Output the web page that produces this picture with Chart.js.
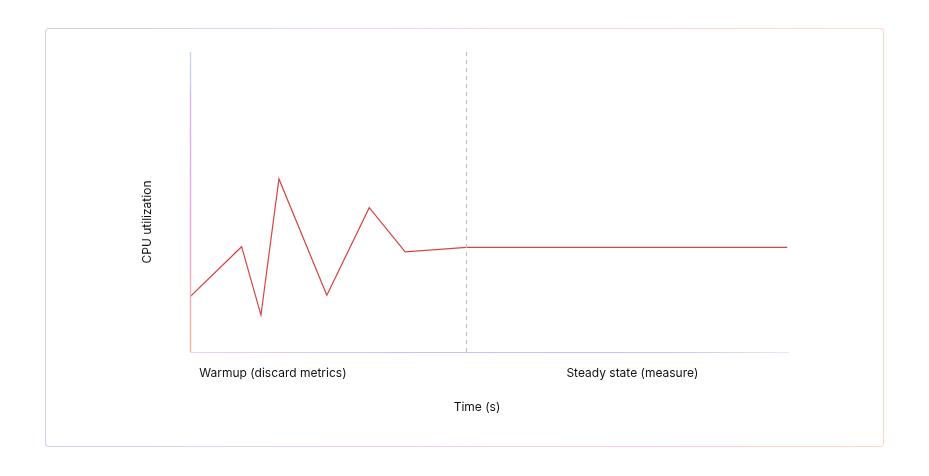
<!DOCTYPE html>
<html>
<head>
<meta charset="utf-8">
<script src="https://cdn.jsdelivr.net/npm/chart.js@4.4.1/dist/chart.umd.min.js"></script>
<style>
  html, body { margin: 0; padding: 0; background: #fff; }
  #card {
    position: absolute; left: 45px; top: 28px; width: 837px; height: 417px;
    border: 1px solid transparent; border-radius: 4px;
    background: linear-gradient(#fff, #fff) padding-box,
                linear-gradient(90deg, #cdd0f7 0%, #f3d2f2 45%, #ffd3d6 70%, #ffd8cc 100%) border-box;
  }
  #wrap { position: absolute; left: 0; top: 0; width: 929px; height: 476px; }
</style>
</head>
<body>
<div id="card"></div>
<div id="wrap"><canvas id="chart" width="929" height="476"></canvas></div>
<script>
// time (s) and cpu utilization (%)
const times = [0, 11.2, 15.4, 19.3, 29.7, 38.9, 46.7, 60, 129.6];
const cpu = [18.4, 35.1, 12.3, 57.7, 18.9, 48.1, 33.4, 34.9, 34.9];
const steadyStart = 60;
const phaseLabels = ["Warmup (discard metrics)", "Steady state (measure)"];
const phaseTicks = [18, 96];
const xTitle = "Time (s)";
const yTitle = "CPU utilization";

const decorPlugin = {
    id: "decor",
    afterDatasetsDraw(chart) {
        const ctx = chart.ctx;
        const a = chart.chartArea;
        const xs = chart.scales.x;
        ctx.save();

        // dashed phase divider
        const dx = Math.round(xs.getPixelForValue(steadyStart)) + 0.5;
        ctx.strokeStyle = "#bdbdbd";
        ctx.lineWidth = 1;
        ctx.setLineDash([4, 4]);
        ctx.beginPath();
        ctx.moveTo(dx, a.top);
        ctx.lineTo(dx, a.bottom);
        ctx.stroke();
        ctx.setLineDash([]);

        // y axis line
        let g = ctx.createLinearGradient(0, a.top, 0, a.bottom);
        g.addColorStop(0, "#c6d2f6");
        g.addColorStop(0.1, "#c8cef6");
        g.addColorStop(0.14, "#cfb2f7");
        g.addColorStop(0.35, "#dca8f6");
        g.addColorStop(0.55, "#ffa0dc");
        g.addColorStop(0.78, "#ffa8b4");
        g.addColorStop(1, "#ffb08a");
        ctx.strokeStyle = g;
        ctx.lineWidth = 1.3;
        ctx.beginPath();
        ctx.moveTo(a.left + 0.5, a.top);
        ctx.lineTo(a.left + 0.5, a.bottom);
        ctx.stroke();

        // x axis line
        g = ctx.createLinearGradient(a.left, 0, a.right, 0);
        g.addColorStop(0, "#f0d0f8");
        g.addColorStop(0.4, "#c4c0f8");
        g.addColorStop(0.8, "#c6c6f8");
        g.addColorStop(1, "#e8e8fc");
        ctx.strokeStyle = g;
        ctx.lineWidth = 1;
        ctx.beginPath();
        ctx.moveTo(a.left, a.bottom + 0.5);
        ctx.lineTo(a.right, a.bottom + 0.5);
        ctx.stroke();

        // phase labels
        ctx.fillStyle = "#111111";
        ctx.font = "12px Inter";
        ctx.textAlign = "center";
        ctx.textBaseline = "middle";
        phaseLabels.forEach((t, i) => {
            ctx.fillText(t, xs.getPixelForValue(phaseTicks[i]), a.bottom + 21);
        });

        // axis titles
        ctx.fillText(xTitle, 477, a.bottom + 55);
        ctx.translate(147, 222);
        ctx.rotate(-Math.PI / 2);
        ctx.fillText(yTitle, 0, 0);
        ctx.restore();
    }
};

new Chart(document.getElementById("chart"), {
    type: "line",
    data: {
        datasets: [{
            data: times.map((t, i) => ({x: t, y: cpu[i]})),
            borderColor: "#d64545",
            borderWidth: 1.2,
            pointRadius: 0,
            tension: 0,
            fill: false
        }]
    },
    options: {
        responsive: false,
        animation: false,
        layout: {padding: {left: 190, right: 140, top: 52, bottom: 124}},
        plugins: {legend: {display: false}, tooltip: {enabled: false}},
        scales: {
            x: {type: "linear", min: 0, max: 130, display: false},
            y: {min: 0, max: 100, display: false}
        }
    },
    plugins: [decorPlugin]
});
</script>
</body>
</html>
